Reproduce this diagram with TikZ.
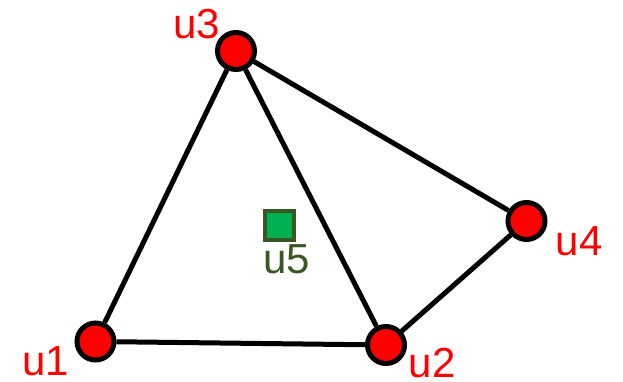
\documentclass[tikz,border=0pt]{standalone}
\usepackage{fontspec}
\setmainfont{Liberation Sans}
\definecolor{vred}{HTML}{FF0000}
\definecolor{sqfill}{HTML}{00B050}
\definecolor{sqdark}{HTML}{385723}
\begin{document}
\begin{tikzpicture}[x=1pt,y=-1pt,
  vertex/.style={circle,draw=black,line width=5pt,fill=vred,minimum size=37pt,inner sep=0pt},
  sq/.style={rectangle,draw=sqdark,line width=4pt,fill=sqfill,minimum size=29pt,inner sep=0pt},
  edge/.style={draw=black,line width=5pt},
  lbl/.style={text=vred,font=\fontsize{42pt}{44pt}\selectfont,inner sep=0pt},
  glbl/.style={text=sqdark,font=\fontsize{42pt}{44pt}\selectfont,inner sep=0pt}]
\useasboundingbox (0,0) rectangle (623,382);
\node[vertex] (u1) at (95.5,341.5) {};
\node[vertex] (u2) at (386,345) {};
\node[vertex] (u3) at (236,51) {};
\node[vertex] (u4) at (526.5,221) {};
\node[sq] (u5) at (279.5,225) {};
\draw[edge] (u1) -- (u2);
\draw[edge] (u1) -- (u3);
\draw[edge] (u3) -- (u2);
\draw[edge] (u3) -- (u4);
\draw[edge] (u4) -- (u2);
\node[lbl] (l3) at (197,24) {u3};
\node[lbl] (l1) at (46,361) {u1};
\node[lbl] (l2) at (432,363) {u2};
\node[lbl] (l4) at (579,241) {u4};
\node[glbl] (l5) at (287,259) {u5};
\end{tikzpicture}
\end{document}
